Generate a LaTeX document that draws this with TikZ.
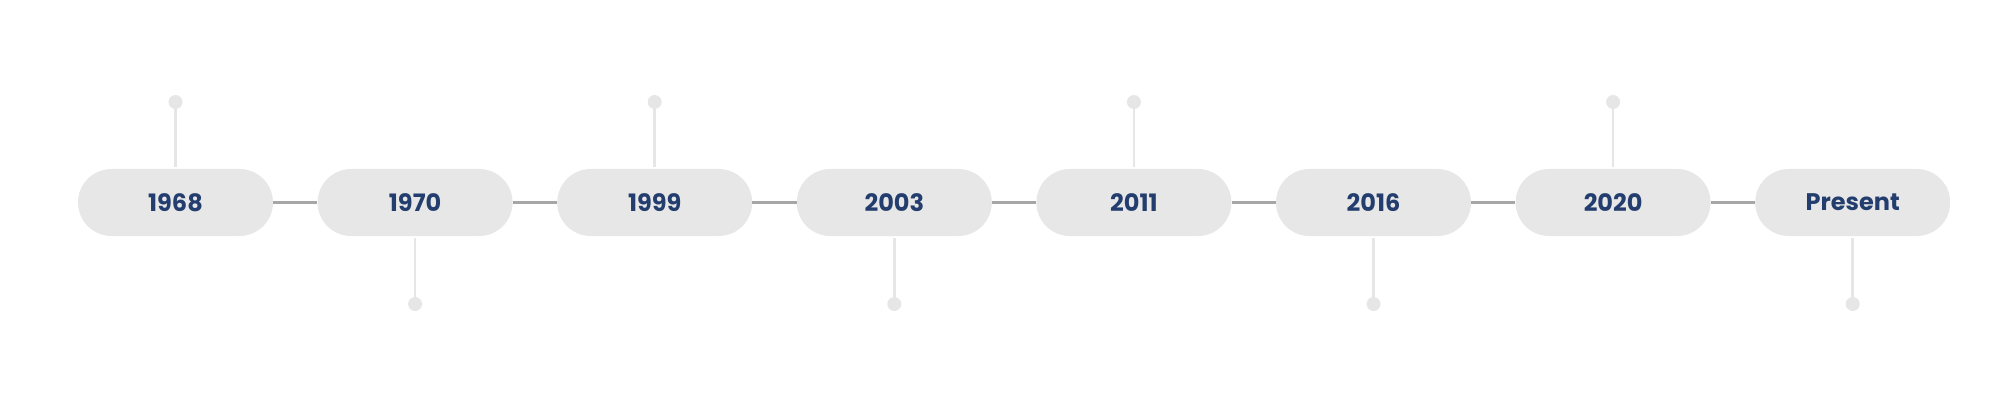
\documentclass[tikz,border=0pt]{standalone}
\usepackage{fontspec}
\setmainfont{Poppins}
\definecolor{pillgray}{HTML}{E7E7E7}
\definecolor{linegray}{HTML}{A6A6A6}
\definecolor{stubgray}{HTML}{E6E6E6}
\definecolor{navy}{HTML}{233E6E}
\begin{document}
\begin{tikzpicture}[x=1pt,y=1pt,
  pill/.style={fill=pillgray,draw=none,rounded corners=33.5pt,minimum width=195pt,minimum height=67pt,inner sep=0pt,text=navy,font=\fontsize{24}{28}\selectfont\bfseries},
  dotnode/.style={circle,fill=stubgray,draw=none,minimum size=14pt,inner sep=0pt},
  joint/.style={draw=linegray,line width=3pt},
  stub/.style={draw=stubgray,line width=2.5pt}]
\useasboundingbox (0,0) rectangle (2000,405);
\foreach \i/\lab in {0/1968,1/1970,2/1999,3/2003,4/2011,5/2016,6/2020,7/Present}{
  \node[pill] (p\i) at ({175.5+\i*239.6},202.5) {\lab};
}
\foreach \i in {0,...,6}{
  \pgfmathtruncatemacro{\j}{\i+1}
  \draw[joint] (p\i.east) -- (p\j.west);
}
\foreach \i in {0,2,4,6}{
  \node[dotnode] (d\i) at ({175.5+\i*239.6},303) {};
  \draw[stub] (d\i.center) -- ([yshift=2pt]p\i.north);
}
\foreach \i in {1,3,5,7}{
  \node[dotnode] (d\i) at ({175.5+\i*239.6},101) {};
  \draw[stub] (d\i.center) -- ([yshift=-2pt]p\i.south);
}
\end{tikzpicture}
\end{document}
